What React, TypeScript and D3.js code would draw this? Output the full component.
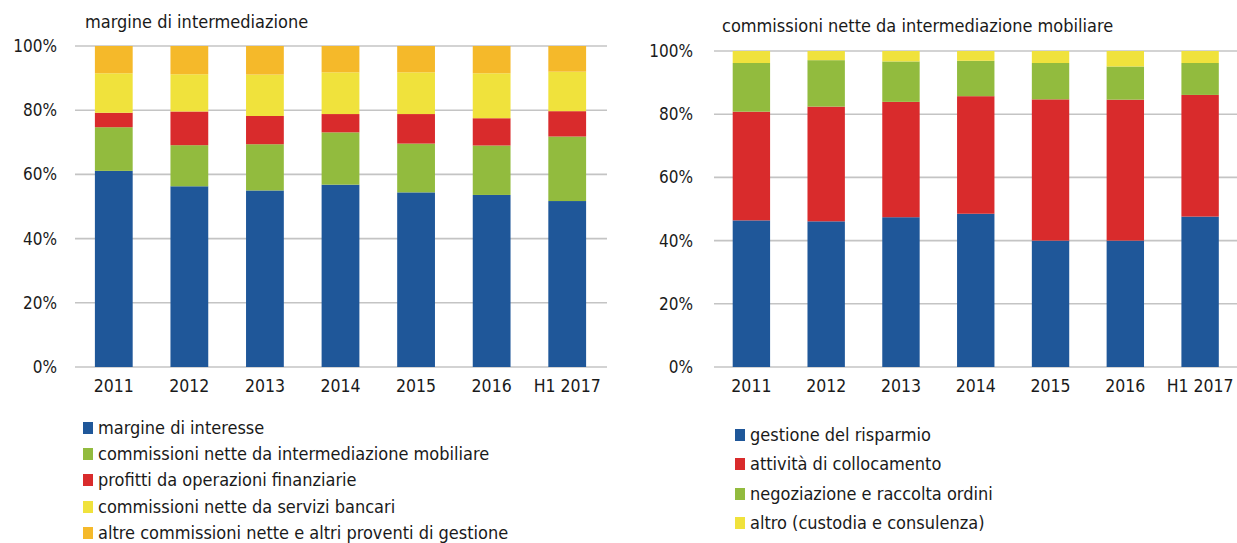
import React from "react";
import * as d3 from "d3";

const categories = ["2011", "2012", "2013", "2014", "2015", "2016", "H1 2017"];

// Left chart: margine di intermediazione (shares, %)
const leftSeriesNames = [
  "margine di interesse",
  "commissioni nette da intermediazione mobiliare",
  "profitti da operazioni finanziarie",
  "commissioni nette da servizi bancari",
  "altre commissioni nette e altri proventi di gestione",
];
const margineInteresse = [61.1, 56.3, 55.0, 56.8, 54.4, 53.6, 51.7];
const commIntermMobiliare = [13.6, 12.8, 14.4, 16.3, 15.2, 15.4, 20.1];
const profittiOperazioni = [4.5, 10.5, 8.8, 5.7, 9.2, 8.5, 7.9];
const commServiziBancari = [12.3, 11.6, 12.9, 13.0, 13.0, 14.0, 12.3];
const altreCommissioni = [8.5, 8.8, 8.9, 8.2, 8.2, 8.5, 8.0];

// Right chart: commissioni nette da intermediazione mobiliare (shares, %)
const rightSeriesNames = [
  "gestione del risparmio",
  "attività di collocamento",
  "negoziazione e raccolta ordini",
  "altro (custodia e consulenza)",
];
const gestioneRisparmio = [46.4, 46.1, 47.4, 48.5, 40.0, 40.0, 47.6];
const collocamento = [34.4, 36.3, 36.5, 37.2, 44.7, 44.6, 38.5];
const negoziazione = [15.4, 14.7, 12.8, 11.2, 11.5, 10.5, 10.1];
const altro = [3.8, 2.9, 3.3, 3.1, 3.8, 4.9, 3.8];

const yTicks = [0, 20, 40, 60, 80, 100];

const BLUE = "#1f5799";
const GREEN = "#92bb3e";
const RED = "#d92b2c";
const YELLOW = "#f0e23c";
const ORANGE = "#f5b92a";

const FONT = "'DejaVu Sans Condensed', 'Liberation Sans Narrow', sans-serif";

type PanelProps = {
  title: string;
  titleX: number;
  titleY: number;
  series: number[][];
  colors: string[];
  xRange: [number, number];
  gridX: [number, number];
  yRange: [number, number];
  labelX: number;
};

function Panel({ title, titleX, titleY, series, colors, xRange, gridX, yRange, labelX }: PanelProps) {
  const x = d3.scaleBand<string>().domain(categories).range(xRange).paddingInner(0.5).paddingOuter(0.25);
  const y = d3.scaleLinear().domain([0, 100]).range(yRange);
  const rows = categories.map((c, i) => {
    const r: any = { cat: c };
    series.forEach((s, k) => (r["s" + k] = s[i]));
    return r;
  });
  const stack = d3.stack<any>().keys(series.map((_, k) => "s" + k))(rows);
  return (
    <g>
      <text x={titleX} y={titleY} fontSize={18} fontFamily={FONT} fill="#1a1a1a">
        {title}
      </text>
      {yTicks.map((t) => (
        <g key={t}>
          <line x1={gridX[0]} x2={gridX[1]} y1={y(t)} y2={y(t)} stroke="#c4c4c4" strokeWidth={1.6} />
          <text x={labelX} y={y(t)} dy="0.35em" textAnchor="end" fontSize={17} fontFamily={FONT} fill="#1a1a1a">
            {t}%
          </text>
        </g>
      ))}
      {stack.map((layer, k) =>
        layer.map((d, i) => (
          <rect
            key={k + "-" + i}
            x={x(categories[i])}
            width={x.bandwidth()}
            y={y(d[1])}
            height={y(d[0]) - y(d[1])}
            fill={colors[k]}
          />
        ))
      )}
      {categories.map((c) => (
        <text
          key={c}
          x={(x(c) as number) + x.bandwidth() / 2}
          y={yRange[0] + 25}
          textAnchor="middle"
          fontSize={17.5}
          fontFamily={FONT}
          fill="#1a1a1a"
        >
          {c}
        </text>
      ))}
    </g>
  );
}

function Legend({ names, colors, x, ys }: { names: string[]; colors: string[]; x: number; ys: number[] }) {
  return (
    <g>
      {names.map((n, i) => (
        <g key={n}>
          <rect x={x} y={ys[i] - 6} width={10} height={12} fill={colors[i]} />
          <text x={x + 15} y={ys[i]} dy="0.35em" fontSize={18} fontFamily={FONT} fill="#1a1a1a">
            {n}
          </text>
        </g>
      ))}
    </g>
  );
}

export default function App() {
  const leftColors = [BLUE, GREEN, RED, YELLOW, ORANGE];
  const rightColors = [BLUE, RED, GREEN, YELLOW];
  return (
    <svg width={1237} height={543} style={{ position: "absolute", left: 0, top: 0, background: "#fff" }}>
      <rect width={1237} height={543} fill="#fff" />
      <Panel
        title="margine di intermediazione"
        titleX={85}
        titleY={28}
        series={[margineInteresse, commIntermMobiliare, profittiOperazioni, commServiziBancari, altreCommissioni]}
        colors={leftColors}
        xRange={[76, 605]}
        gridX={[75, 607]}
        yRange={[367, 46]}
        labelX={57}
      />
      <Panel
        title="commissioni nette da intermediazione mobiliare"
        titleX={722}
        titleY={32}
        series={[gestioneRisparmio, collocamento, negoziazione, altro]}
        colors={rightColors}
        xRange={[714, 1237.5]}
        gridX={[714, 1237]}
        yRange={[367, 51]}
        labelX={693}
      />
      <Legend names={leftSeriesNames} colors={leftColors} x={83} ys={[428, 454, 480, 507, 533]} />
      <Legend names={rightSeriesNames} colors={rightColors} x={735} ys={[435, 464, 494, 523]} />
    </svg>
  );
}
